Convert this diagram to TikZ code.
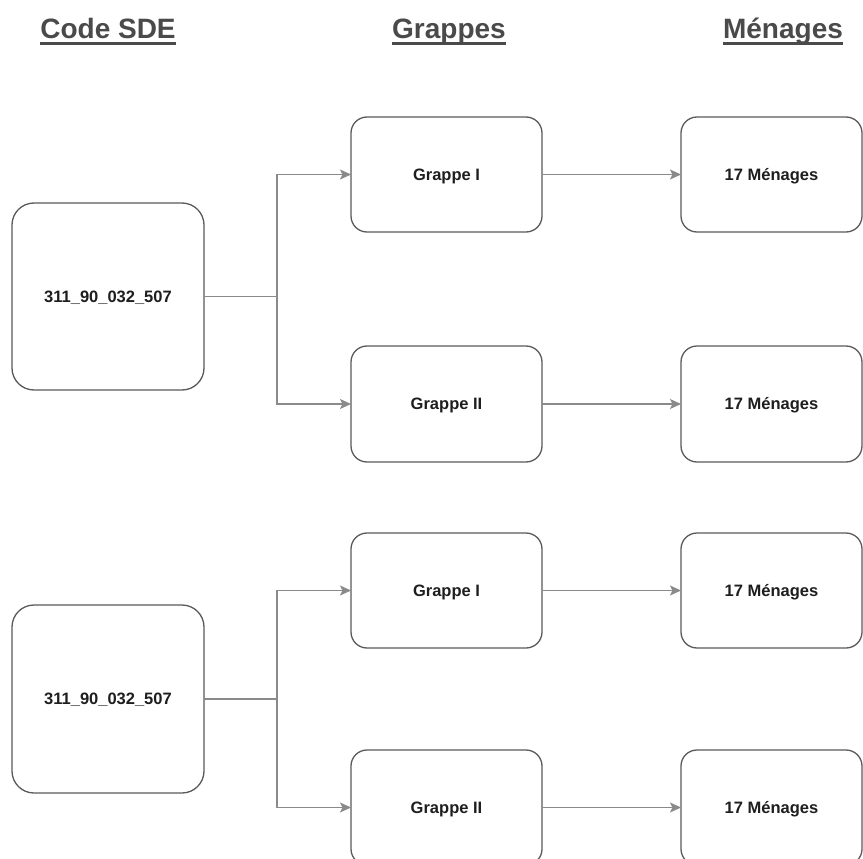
\documentclass[tikz,border=0pt]{standalone}
\usepackage{fontspec}
\setmainfont{Liberation Sans}
\usetikzlibrary{arrows.meta}
\definecolor{boxline}{HTML}{5A5A5A}
\definecolor{conline}{HTML}{8A8A8A}
\definecolor{headcol}{HTML}{4A4A4A}
\definecolor{txtcol}{HTML}{1E1E1E}
\tikzset{
  boxfont/.style={font=\fontsize{16.5}{18}\selectfont\bfseries, text=txtcol, text height=11.8pt, text depth=0pt},
  bigbox/.style={draw=boxline, line width=1.3pt, rounded corners=22pt, minimum width=192pt, minimum height=187pt, inner sep=0pt, outer sep=0pt, boxfont},
  smallbox/.style={draw=boxline, line width=1.3pt, rounded corners=16pt, minimum width=191pt, minimum height=115pt, inner sep=0pt, outer sep=0pt, boxfont},
  menbox/.style={smallbox, minimum width=181pt},
  header/.style={inner sep=0pt, text depth=0pt, anchor=base, font=\fontsize{28}{32}\selectfont\bfseries, text=headcol},
  uline/.style={draw=headcol, line width=2.5pt},
  conn/.style={draw=conline, line width=1.2pt},
  arr/.style={conn, -{Stealth[length=11pt, width=10pt, inset=2.5pt]}},
}
\begin{document}
\begin{tikzpicture}[x=1pt, y=-1pt]
\clip (0,0) rectangle (863,859);
\fill[white] (0,0) rectangle (863,859);

% headers
\node[header] (h1) at (108,39) {Code SDE};
\node[header] (h2) at (449,39) {Grappes};
\node[header] (h3) at (783,39) {Ménages};
\foreach \h in {h1,h2,h3}{
  \draw[uline] ([yshift=-4.5pt]\h.base west) -- ([yshift=-4.5pt]\h.base east);
}

% left boxes
\node[bigbox] (L1) at (108,296.5) {311\_90\_032\_507};
\node[bigbox, minimum height=188pt] (L2) at (108,699) {311\_90\_032\_507};

% grappe boxes
\node[smallbox] (G1) at (446.5,174.5) {Grappe I};
\node[smallbox, minimum height=116pt] (G2) at (446.5,404) {Grappe II};
\node[smallbox] (G3) at (446.5,590.5) {Grappe I};
\node[smallbox] (G4) at (446.5,807.5) {Grappe II};

% menages boxes
\node[menbox] (M1) at (771.5,174.5) {17 Ménages};
\node[menbox, minimum height=116pt] (M2) at (771.5,404) {17 Ménages};
\node[menbox] (M3) at (771.5,590.5) {17 Ménages};
\node[menbox] (M4) at (771.5,807.5) {17 Ménages};

% branch points
\coordinate (b1) at (277,296.5);
\coordinate (b2) at (277,699);

\draw[conn] (L1.east) -- (b1);
\draw[arr] (b1) |- (G1.west);
\draw[arr] (b1) |- (G2.west);
\draw[conn] (L2.east) -- (b2);
\draw[arr] (b2) |- (G3.west);
\draw[arr] (b2) |- (G4.west);

\draw[arr] (G1.east) -- (M1.west);
\draw[arr] (G2.east) -- (M2.west);
\draw[arr] (G3.east) -- (M3.west);
\draw[arr] (G4.east) -- (M4.west);
\end{tikzpicture}
\end{document}
